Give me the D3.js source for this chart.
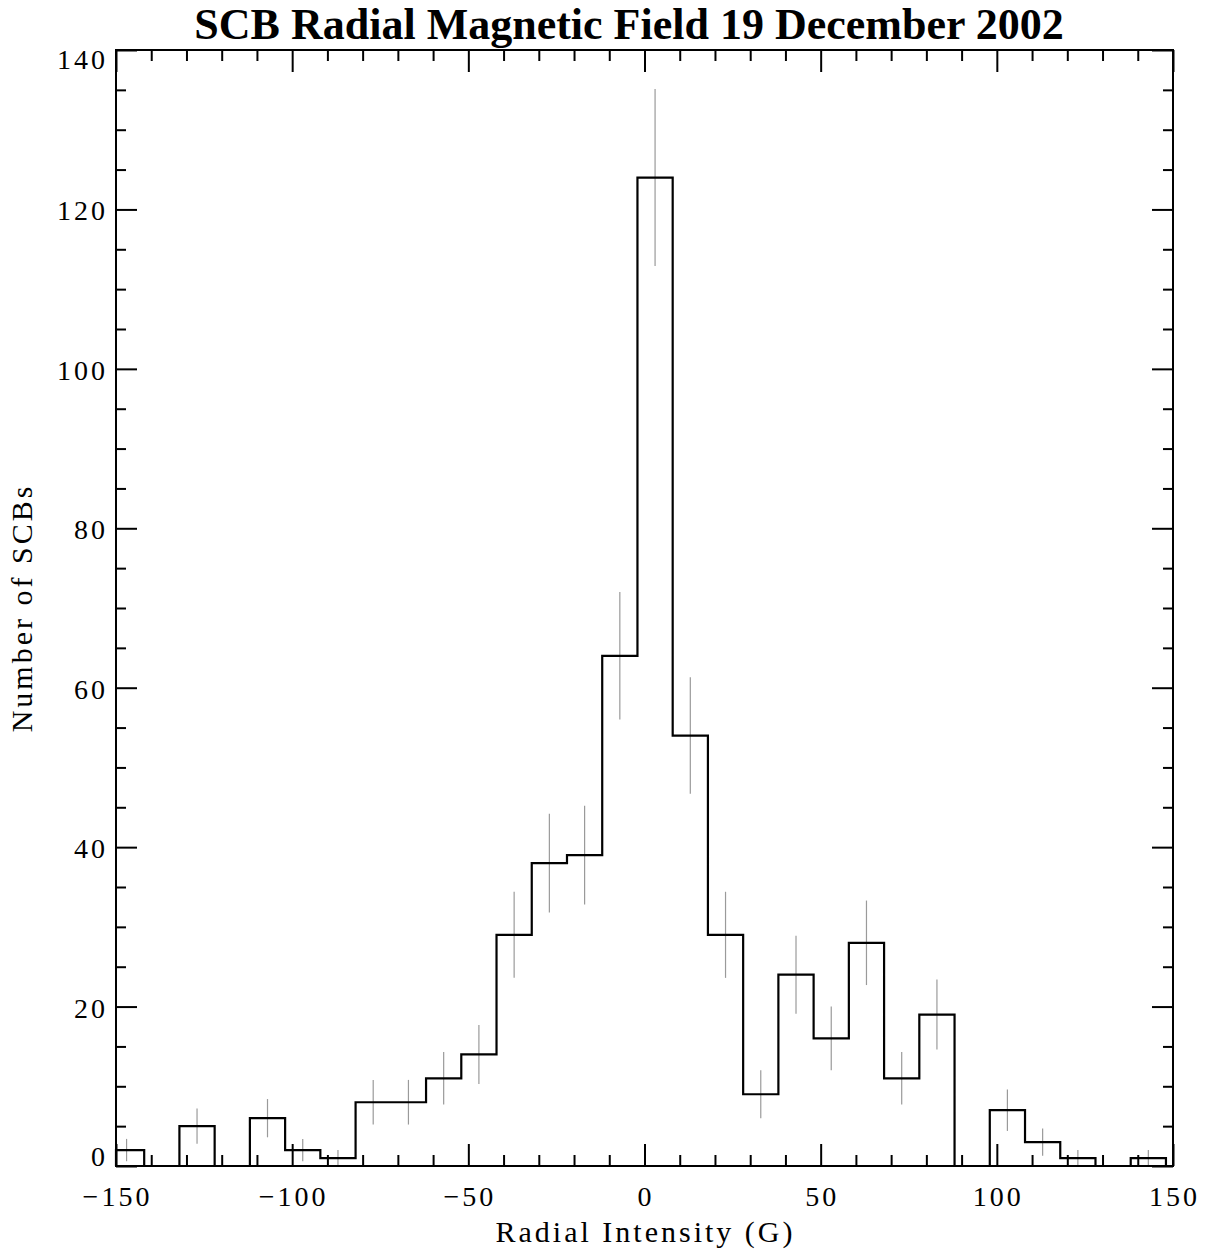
<!DOCTYPE html>
<html>
<head>
<meta charset="utf-8">
<script src="https://cdn.jsdelivr.net/npm/d3@7"></script>
<style>
	body{margin:0;background:#fff;}
	svg{display:block;}
	.tick_lbl{font-family:"Liberation Serif",serif;font-size:28px;fill:#000;letter-spacing:3px;}
	.axis_lbl{font-family:"Liberation Serif",serif;font-size:30px;fill:#000;letter-spacing:3px;}
	.title{font-family:"Liberation Serif",serif;font-size:44px;font-weight:bold;fill:#000;}
</style>
</head>
<body>
<div id="chart"></div>
<script>
// histogram bins (centre of each 10 G bin)
var binCenters = [-147,-137,-127,-117,-107,-97,-87,-77,-67,-57,-47,-37,-27,-17,-7,3,13,23,33,43,53,63,73,83,93,103,113,123,133,143];
var binWidth = 10;
var counts = [2,0,5,0,6,2,1,8,8,11,14,29,38,39,64,124,54,29,9,24,16,28,11,19,0,7,3,1,0,1];
var errors = [1.4,0,2.2,0,2.4,1.4,1.0,2.8,2.8,3.3,3.7,5.4,6.2,6.2,8.0,11.1,7.3,5.4,3.0,4.9,4.0,5.3,3.3,4.4,0,2.6,1.7,1.0,0,1.0];

var xMajorTicks = [-150,-100,-50,0,50,100,150];
var xMinorTicks = [-140,-130,-120,-110,-90,-80,-70,-60,-40,-30,-20,-10,10,20,30,40,60,70,80,90,110,120,130,140];
var yMajorTicks = [0,20,40,60,80,100,120,140];
var yMinorTicks = [5,10,15,25,30,35,45,50,55,65,70,75,85,90,95,105,110,115,125,130,135];

var chartTitle = "SCB Radial Magnetic Field 19 December 2002";
var xTitle = "Radial Intensity (G)";
var yTitle = "Number of SCBs";

var svg_width = 1212;
var svg_height = 1256;
var svgSize = {margin_top:50,margin_left:116,margin_bottom:90,margin_right:39,inner_width:0,inner_height:0};
svgSize.inner_width = svg_width - svgSize.margin_left - svgSize.margin_right;
svgSize.inner_height = svg_height - svgSize.margin_top - svgSize.margin_bottom;

var svg = d3.select("#chart").append("svg")
			.attr("width",svg_width)
			.attr("height",svg_height);

var g = svg.append("g")
		   .attr("transform","translate(" + svgSize.margin_left + "," + svgSize.margin_top + ")");

var xScale = d3.scaleLinear()
			   .domain([-150,150])
			   .range([0,svgSize.inner_width]);

var yScale = d3.scaleLinear()
			   .domain([0,140])
			   .range([svgSize.inner_height,0]);

/*step outline of the histogram, clipped to the plotted range*/
var stepPoints = [];
var xMin = xScale.domain()[0], xMax = xScale.domain()[1];
stepPoints.push([Math.max(xMin,binCenters[0]-binWidth/2),0]);
binCenters.forEach(function(c,i){
	var left = Math.max(xMin,c-binWidth/2);
	var right = Math.min(xMax,c+binWidth/2);
	stepPoints.push([left,counts[i]]);
	stepPoints.push([right,counts[i]]);
});
stepPoints.push([Math.min(xMax,binCenters[binCenters.length-1]+binWidth/2),0]);
stepPoints.push([xMax,0]);

var line = d3.line()
			 .x(function(d){return xScale(d[0]);})
			 .y(function(d){return yScale(d[1]);});

/*error bars*/
var errData = binCenters.map(function(c,i){return {x:c,y:counts[i],e:errors[i]};})
						.filter(function(d){return d.e>0;});

g.selectAll(".err")
 .data(errData)
 .enter()
 .append("line")
 .attr("class","err")
 .attr("x1",function(d){return xScale(d.x);})
 .attr("x2",function(d){return xScale(d.x);})
 .attr("y1",function(d){return yScale(Math.max(0,d.y-d.e));})
 .attr("y2",function(d){return yScale(d.y+d.e);})
 .attr("stroke","#9a9a9a")
 .attr("stroke-width",1.2);

g.append("path")
 .attr("d",line(stepPoints))
 .attr("fill","none")
 .attr("stroke","#000")
 .attr("stroke-width",2.2)
 .attr("stroke-linejoin","miter");

/*ticks on all four sides, pointing inward*/
function tickAxis(axisFn,scale,values,size,transform){
	var a = axisFn(scale).tickValues(values).tickSize(size).tickFormat("");
	var ag = g.append("g").attr("transform",transform).call(a);
	ag.select(".domain").remove();
	ag.selectAll(".tick line").attr("stroke","#000").attr("stroke-width",2);
	return ag;
}

tickAxis(d3.axisBottom,xScale,xMajorTicks,-22,"translate(0," + svgSize.inner_height + ")");
tickAxis(d3.axisBottom,xScale,xMinorTicks,-11,"translate(0," + svgSize.inner_height + ")");
tickAxis(d3.axisTop,xScale,xMajorTicks,-22,"translate(0,0)");
tickAxis(d3.axisTop,xScale,xMinorTicks,-11,"translate(0,0)");
tickAxis(d3.axisLeft,yScale,yMajorTicks,-21,"translate(0,0)");
tickAxis(d3.axisLeft,yScale,yMinorTicks,-10,"translate(0,0)");
tickAxis(d3.axisRight,yScale,yMajorTicks,-21,"translate(" + svgSize.inner_width + ",0)");
tickAxis(d3.axisRight,yScale,yMinorTicks,-10,"translate(" + svgSize.inner_width + ",0)");

g.append("rect")
 .attr("x",0)
 .attr("y",0)
 .attr("width",svgSize.inner_width)
 .attr("height",svgSize.inner_height)
 .attr("fill","none")
 .attr("stroke","#000")
 .attr("stroke-width",2);

/*tick labels*/
g.selectAll(".xlbl")
 .data(xMajorTicks)
 .enter()
 .append("text")
 .attr("class","tick_lbl")
 .attr("x",function(d){return xScale(d) + 1.5;})
 .attr("y",svgSize.inner_height + 40)
 .attr("text-anchor","middle")
 .text(function(d){return d<0 ? "\u2212" + Math.abs(d) : d;});

g.selectAll(".ylbl")
 .data(yMajorTicks)
 .enter()
 .append("text")
 .attr("class","tick_lbl")
 .attr("x",-8)
 .attr("y",function(d){
 	if(d==0){return yScale(d);}
 	if(d==140){return yScale(d) + 19;}
 	return yScale(d) + 11;
 })
 .attr("text-anchor","end")
 .text(function(d){return d;});

/*titles*/
svg.append("text")
   .attr("class","title")
   .attr("x",629)
   .attr("y",39)
   .attr("text-anchor","middle")
   .text(chartTitle);

svg.append("text")
   .attr("class","axis_lbl")
   .attr("x",svgSize.margin_left + svgSize.inner_width/2 + 1)
   .attr("y",1242)
   .attr("text-anchor","middle")
   .text(xTitle);

svg.append("text")
   .attr("class","axis_lbl")
   .attr("transform","translate(32," + (svgSize.margin_top + svgSize.inner_height/2) + ") rotate(-90)")
   .attr("text-anchor","middle")
   .text(yTitle);
</script>
</body>
</html>
